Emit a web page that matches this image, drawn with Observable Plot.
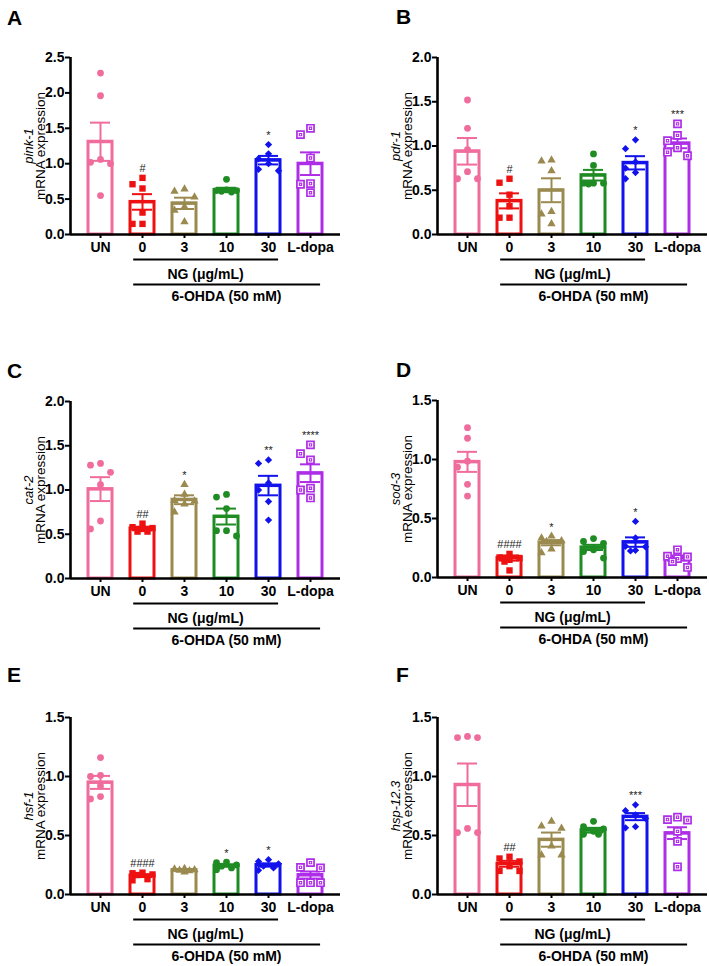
<!DOCTYPE html>
<html><head><meta charset="utf-8">
<script src="https://cdn.jsdelivr.net/npm/d3@7"></script>
<script src="https://cdn.jsdelivr.net/npm/@observablehq/plot@0.6"></script>
<style>
body{margin:0;background:#fff;font-family:"Liberation Sans",Arial,sans-serif;}
#fig{position:relative;width:709px;height:966px;background:#fff;overflow:hidden;}
.panel{position:absolute;}
.letter{position:absolute;font-weight:bold;font-size:21px;line-height:21px;font-family:"Liberation Sans",Arial,sans-serif;}
</style></head><body><div id="fig"></div>
<script>
// ---- categories and styles ----
const groups = ["UN", "0", "3", "10", "30", "L-dopa"];
const colors = ["#EF6C9C", "#EE1111", "#9B8A50", "#1E8C22", "#1212EC", "#AE2EE8"];
const symbols = ["circle", "square", "triangle", "circle", "diamond2", "square"];

// ---- A: pink-1 ----
const pinkPts = [
  [2.28, 1.96, 1.06, 1.02, 1.00, 0.55],
  [0.80, 0.71, 0.65, 0.31, 0.15, 0.15],
  [0.64, 0.61, 0.53, 0.39, 0.34, 0.18],
  [0.78, 0.63, 0.62, 0.62, 0.61, 0.60],
  [1.27, 1.14, 1.07, 1.00, 0.92, 0.90],
  [1.50, 1.41, 1.08, 0.72, 0.71, 0.59]
];
const pinkMean = [1.31, 0.46, 0.44, 0.63, 1.05, 1.00];
const pinkSem = [0.27, 0.11, 0.08, 0.03, 0.06, 0.16];
const pinkSig = ["", "#", "", "", "*", ""];

// ---- B: pdr-1 ----
const pdrPts = [
  [1.52, 1.20, 0.96, 0.71, 0.63, 0.63],
  [0.63, 0.585, 0.45, 0.32, 0.19, 0.19],
  [0.84, 0.83, 0.72, 0.26, 0.23, 0.12],
  [0.91, 0.78, 0.58, 0.58, 0.58, 0.57],
  [1.07, 0.97, 0.82, 0.75, 0.70, 0.63],
  [1.25, 1.12, 1.06, 0.98, 0.93, 0.89]
];
const pdrMean = [0.94, 0.38, 0.50, 0.67, 0.81, 1.03];
const pdrSem = [0.15, 0.085, 0.135, 0.06, 0.075, 0.055];
const pdrSig = ["", "#", "", "", "*", "***"];

// ---- C: cat-2 ----
const catPts = [
  [1.30, 1.28, 1.20, 1.06, 0.65, 0.56],
  [0.62, 0.58, 0.57, 0.56, 0.53, 0.53],
  [1.06, 0.95, 0.88, 0.875, 0.84, 0.75],
  [0.95, 0.92, 0.79, 0.54, 0.54, 0.48],
  [1.34, 1.30, 1.08, 1.00, 0.87, 0.66],
  [1.51, 1.41, 1.34, 1.02, 1.00, 0.91]
];
const catMean = [1.01, 0.565, 0.89, 0.70, 1.05, 1.19];
const catSem = [0.135, 0.02, 0.05, 0.09, 0.11, 0.10];
const catSig = ["", "##", "*", "", "**", "****"];

// ---- D: sod-3 ----
const sodPts = [
  [1.27, 1.18, 0.985, 0.935, 0.79, 0.69],
  [0.20, 0.17, 0.165, 0.15, 0.135, 0.06],
  [0.35, 0.335, 0.31, 0.305, 0.24, 0.21],
  [0.33, 0.305, 0.29, 0.235, 0.22, 0.165],
  [0.475, 0.335, 0.265, 0.26, 0.23, 0.225],
  [0.235, 0.18, 0.175, 0.16, 0.135, 0.085]
];
const sodMean = [0.98, 0.165, 0.295, 0.255, 0.30, 0.165];
const sodSem = [0.085, 0.022, 0.022, 0.022, 0.04, 0.022];
const sodSig = ["", "####", "*", "", "*", ""];

// ---- E: hsf-1 ----
const hsfPts = [
  [1.16, 1.01, 1.00, 0.92, 0.83, 0.81],
  [0.185, 0.18, 0.17, 0.165, 0.13, 0.12],
  [0.22, 0.215, 0.21, 0.205, 0.20, 0.19],
  [0.275, 0.27, 0.25, 0.24, 0.225, 0.21],
  [0.295, 0.28, 0.26, 0.24, 0.225, 0.205],
  [0.27, 0.23, 0.225, 0.10, 0.10, 0.10]
];
const hsfMean = [0.95, 0.16, 0.207, 0.245, 0.25, 0.165];
const hsfSem = [0.055, 0.012, 0.006, 0.01, 0.014, 0.03];
const hsfSig = ["", "####", "", "*", "*", ""];

// ---- F: hsp-12.3 ----
const hspPts = [
  [1.34, 1.33, 1.33, 0.56, 0.525, 0.525],
  [0.32, 0.305, 0.28, 0.24, 0.20, 0.20],
  [0.62, 0.58, 0.56, 0.41, 0.335, 0.335],
  [0.62, 0.575, 0.555, 0.535, 0.51, 0.51],
  [0.76, 0.71, 0.675, 0.645, 0.575, 0.565],
  [0.655, 0.635, 0.63, 0.535, 0.45, 0.235]
];
const hspMean = [0.93, 0.26, 0.465, 0.545, 0.66, 0.52];
const hspSem = [0.18, 0.025, 0.06, 0.02, 0.03, 0.05];
const hspSig = ["", "##", "", "", "***", ""];

const ngLabel = "NG (μg/mL)";
const ohdaLabel = "6-OHDA (50 mM)";
const yLabel2 = "mRNA expression";

// ---- layout ----
const panels = [
  {letter:"A", gene:"pink-1", pts:pinkPts, mean:pinkMean, sem:pinkSem, sig:pinkSig, ymax:2.5,
   left:0, top:0, width:354, height:320, axisX:70, axisEnd:340, yTop:57, y0:234, lx:7, lb:25},
  {letter:"B", gene:"pdr-1", pts:pdrPts, mean:pdrMean, sem:pdrSem, sig:pdrSig, ymax:2.0,
   left:354, top:0, width:355, height:320, axisX:437, axisEnd:707, yTop:57, y0:234, lx:396, lb:24},
  {letter:"C", gene:"cat-2", pts:catPts, mean:catMean, sem:catSem, sig:catSig, ymax:2.0,
   left:0, top:320, width:354, height:320, axisX:70, axisEnd:340, yTop:401, y0:578, lx:7, lb:378},
  {letter:"D", gene:"sod-3", pts:sodPts, mean:sodMean, sem:sodSem, sig:sodSig, ymax:1.5,
   left:354, top:320, width:355, height:320, axisX:437, axisEnd:707, yTop:400, y0:577, lx:396, lb:377},
  {letter:"E", gene:"hsf-1", pts:hsfPts, mean:hsfMean, sem:hsfSem, sig:hsfSig, ymax:1.5,
   left:0, top:640, width:354, height:326, axisX:70, axisEnd:340, yTop:717, y0:894, lx:7, lb:682},
  {letter:"F", gene:"hsp-12.3", pts:hspPts, mean:hspMean, sem:hspSem, sig:hspSig, ymax:1.5,
   left:354, top:640, width:355, height:326, axisX:437, axisEnd:707, yTop:717, y0:894, lx:396, lb:682}
];

const STEP = 42;       // px between category centres
const FIRST = 30;      // px from y-axis to first category centre

// deterministic scatter spreading (beeswarm-like) in pixel space
function spread(values, pxPerUnit) {
  const slots = [0, -10, 10, -5, 5];
  const order = d3.range(values.length).sort((a, b) => values[b] - values[a]);
  const placed = [], off = new Array(values.length);
  for (const i of order) {
    const y = values[i] * pxPerUnit;
    let best = 0, bestD = -1;
    for (const s of slots) {
      let dmin = Infinity;
      for (const p of placed) dmin = Math.min(dmin, Math.hypot(p.x - s, p.y - y));
      if (dmin >= 9) { best = s; bestD = dmin; break; }
      if (dmin > bestD) { bestD = dmin; best = s; }
    }
    placed.push({x: best, y});
    off[i] = best;
  }
  return off;
}

const fig = document.getElementById("fig");
const iNG0 = groups.indexOf("0"), iNG1 = groups.indexOf("30"), iLD = groups.indexOf("L-dopa");

for (const p of panels) {
  const innerW = p.axisEnd - p.axisX;
  const xDomain = [-FIRST / STEP, (innerW - FIRST) / STEP];
  const pxPerUnit = (p.y0 - p.yTop) / p.ymax;
  const bars = groups.map((g, i) => ({i, g, mean: p.mean[i], sem: p.sem[i], color: colors[i],
    top: Math.max(p.mean[i] + p.sem[i], d3.max(p.pts[i])), sig: p.sig[i]}));
  const pts = p.pts.flatMap((vals, i) => {
    const off = spread(vals, pxPerUnit);
    return vals.map((v, k) => ({i, v, x: i + off[k] / STEP, color: colors[i]}));
  });
  const hw = 12 / STEP, cap = 10 / STEP;

  const dotMarks = [];
  groups.forEach((g, i) => {
    const data = pts.filter(d => d.i === i);
    if (g === "L-dopa") {
      dotMarks.push(Plot.dot(data, {x: "x", y: "v", symbol: "square", r: 4.0, fill: "white", stroke: colors[i], strokeWidth: 1.7}));
      dotMarks.push(Plot.dot(data, {x: "x", y: "v", symbol: "square", r: 1.3, fill: "white", stroke: colors[i], strokeWidth: 1.1}));
    } else {
      const r = symbols[i] === "triangle" ? 3.1 : symbols[i] === "square" ? 3.6 : symbols[i] === "diamond2" ? 3.3 : 3.4;
      dotMarks.push(Plot.dot(data, {x: "x", y: "v", symbol: symbols[i], r, fill: colors[i], stroke: "none"}));
    }
  });

  const chart = Plot.plot({
    width: p.width, height: p.height,
    marginLeft: p.axisX - p.left, marginRight: p.left + p.width - p.axisEnd,
    marginTop: p.yTop - p.top, marginBottom: p.top + p.height - p.y0,
    x: {domain: xDomain, axis: null},
    y: {domain: [0, p.ymax], axis: null},
    style: {fontFamily: "'Liberation Sans', Arial, sans-serif", fontSize: "14px", fontWeight: "bold",
            color: "black", background: "transparent", overflow: "visible"},
    marks: [
      Plot.rectY(bars, {x1: d => d.i - hw, x2: d => d.i + hw, y1: 0, y2: "mean", fill: "white", stroke: "color", strokeWidth: 3}),
      Plot.ruleX(bars, {x: "i", y1: d => d.mean - d.sem, y2: d => d.mean + d.sem, stroke: "color", strokeWidth: 2}),
      Plot.ruleY(bars, {y: d => d.mean + d.sem, x1: d => d.i - cap, x2: d => d.i + cap, stroke: "color", strokeWidth: 2}),
      Plot.ruleY(bars, {y: d => d.mean - d.sem, x1: d => d.i - cap, x2: d => d.i + cap, stroke: "color", strokeWidth: 2}),
      Plot.ruleY(bars, {y: "mean", x1: d => d.i - hw, x2: d => d.i + hw, stroke: "color", strokeWidth: 3}),
      ...dotMarks,
      Plot.ruleX([xDomain[0]], {stroke: "black", strokeWidth: 2.6}),
      Plot.ruleY([0], {stroke: "black", strokeWidth: 2.6}),
      Plot.axisY({ticks: d3.range(0, p.ymax + 1e-9, 0.5), tickFormat: d3.format(".1f"), tickSize: 5, tickPadding: 1,
                  fontSize: 14, fontWeight: "bold", strokeWidth: 2, label: null}),
      Plot.axisX({ticks: d3.range(groups.length), tickFormat: i => groups[i], tickSize: 4, tickPadding: 4,
                  fontSize: 14, fontWeight: "bold", strokeWidth: 2, label: null}),
      Plot.text(bars.filter(d => d.sig), {x: "i", y: "top", text: "sig", dy: -9, fontSize: 11, fontWeight: "normal", fill: "#222"}),
      Plot.ruleY([0], {x1: iNG0 - 0.21, x2: iNG1 + 0.24, dy: 25, stroke: "black", strokeWidth: 1.8}),
      Plot.text([ngLabel], {x: (iNG0 + iNG1) / 2, y: 0, text: d => d, dy: 40, fontSize: 14, fontWeight: "bold"}),
      Plot.ruleY([0], {x1: iNG0 - 0.21, x2: iLD + 0.24, dy: 50, stroke: "black", strokeWidth: 1.8}),
      Plot.text([ohdaLabel], {x: (iNG0 + iLD) / 2, y: 0, text: d => d, dy: 62, fontSize: 14, fontWeight: "bold"}),
      Plot.text([p.gene], {frameAnchor: "left", textAnchor: "middle", lineAnchor: "middle", text: d => d, rotate: -90, dx: -42, fontSize: 13, fontStyle: "italic", fontWeight: "normal"}),
      Plot.text([yLabel2], {frameAnchor: "left", textAnchor: "middle", lineAnchor: "middle", text: d => d, rotate: -90, dx: -30, fontSize: 13.5, fontWeight: "normal"})
    ]
  });
  const wrap = document.createElement("div");
  wrap.className = "panel";
  wrap.style.left = p.left + "px";
  wrap.style.top = p.top + "px";
  wrap.appendChild(chart);
  fig.appendChild(wrap);

  const L = document.createElement("div");
  L.className = "letter";
  L.textContent = p.letter;
  L.style.left = p.lx + "px";
  L.style.top = (p.lb - 18) + "px";
  fig.appendChild(L);
}
</script>
</body></html>
